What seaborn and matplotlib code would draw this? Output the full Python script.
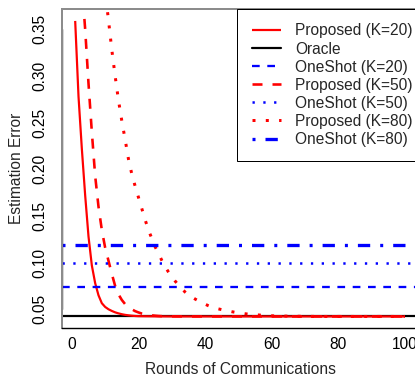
import matplotlib
matplotlib.use("Agg")
import matplotlib.pyplot as plt
import seaborn as sns
from matplotlib.lines import Line2D

sns.set_style("white")
plt.rcParams["font.family"] = ["Liberation Sans", "DejaVu Sans"]
plt.rcParams["lines.scale_dashes"] = False

# ---------------- data ----------------
rounds_k20 = [1, 2, 3, 4, 5, 6, 7, 8, 9, 10, 11, 12, 13, 14, 15, 16, 17, 18, 19, 20,
              22, 25, 30, 40, 50, 60, 70, 80, 90, 100]
proposed_k20 = [0.359, 0.278, 0.222, 0.172, 0.128, 0.097, 0.078, 0.065, 0.0565, 0.0525,
                0.0500, 0.0482, 0.0467, 0.0456, 0.0447, 0.0440, 0.0435, 0.0431, 0.0428, 0.0426,
                0.0425, 0.0424, 0.0423, 0.0423, 0.0423, 0.0423, 0.0423, 0.0423, 0.0423, 0.0423]

rounds_k50 = [1, 2, 3, 4, 5, 6, 7, 8, 9, 10, 11, 12, 13, 14, 15, 16, 17, 18, 19, 20,
              21, 22, 23, 24, 25, 26, 27, 28, 30, 35, 40, 50, 60, 70, 80, 90, 100]
proposed_k50 = [0.520, 0.455, 0.398, 0.350, 0.292, 0.240, 0.193, 0.160, 0.135, 0.116,
                0.102, 0.088, 0.075, 0.066, 0.060, 0.0555, 0.0525, 0.0500, 0.0480, 0.0466,
                0.0454, 0.0446, 0.0440, 0.0435, 0.0431, 0.0428, 0.0426, 0.0425, 0.0424, 0.0423,
                0.0423, 0.0423, 0.0423, 0.0423, 0.0423, 0.0423, 0.0423]

rounds_k80 = [1, 2, 3, 4, 5, 6, 7, 8, 9, 10, 11, 12, 13, 14, 15, 16, 17, 18, 19, 20,
              21, 22, 23, 24, 25, 26, 27, 28, 29, 30, 31, 32, 33, 34, 35, 36, 37, 38, 39, 40,
              41, 42, 43, 44, 45, 46, 47, 48, 49, 50, 51, 52, 53, 54, 55, 56, 57, 58, 59, 60,
              65, 70, 75, 80, 85, 90, 95, 100]
proposed_k80 = [0.660, 0.630, 0.600, 0.570, 0.540, 0.510, 0.480, 0.450, 0.420, 0.390,
                0.360, 0.328, 0.300, 0.274, 0.252, 0.232, 0.211, 0.195, 0.182, 0.170,
                0.158, 0.146, 0.135, 0.126, 0.117, 0.110, 0.1025, 0.0958, 0.0900, 0.0850,
                0.0803, 0.0760, 0.0720, 0.0685, 0.0655, 0.0632, 0.0610, 0.0590, 0.0571, 0.0555,
                0.0538, 0.0523, 0.0513, 0.0504, 0.0496, 0.0488, 0.0481, 0.0474, 0.0468, 0.0462,
                0.0457, 0.0452, 0.0448, 0.0445, 0.0442, 0.0439, 0.0436, 0.0434, 0.0432, 0.0430,
                0.0426, 0.0424, 0.0423, 0.0423, 0.0423, 0.0423, 0.0423, 0.0423]

oracle = 0.0423
oneshot_k20 = 0.0742
oneshot_k50 = 0.0993
oneshot_k80 = 0.1189

x_ticks = [0, 20, 40, 60, 80, 100]
y_ticks = [0.05, 0.10, 0.15, 0.20, 0.25, 0.30, 0.35]
y_ticklabels = ["0.05", "0.10", "0.15", "0.20", "0.25", "0.30", "0.35"]

legend_labels = ["Proposed (K=20)", "Oracle", "OneShot (K=20)", "Proposed (K=50)",
                 "OneShot (K=50)", "Proposed (K=80)", "OneShot (K=80)"]

RED = "#FF0000"
BLUE = "#0000FF"
FS = 15.5

# ---------------- figure ----------------
W, H = 415, 384
fig = plt.figure(figsize=(W / 72, H / 72), dpi=72)
ax_l, ax_t, ax_b, ax_r = 62, 9, 328.3, 418
ax = fig.add_axes([ax_l / W, (H - ax_b) / H, (ax_r - ax_l) / W, (ax_b - ax_t) / H])


def curve(x, y, color, lw, dashes=None):
    sns.lineplot(x=x, y=y, ax=ax, color=color, linewidth=lw, estimator=None,
                 sort=False, legend=False)
    ln = ax.lines[-1]
    if dashes is not None:
        ln.set_dashes(dashes)
    ln.set_dash_capstyle("butt")
    ln.set_solid_capstyle("butt")
    return ln


def hline(y, color, lw, dashes=None):
    ln = ax.axhline(y, color=color, linewidth=lw)
    if dashes is not None:
        ln.set_dashes(dashes)
    ln.set_dash_capstyle("butt")
    return ln


h_or = hline(oracle, "black", 2.2)
h_p20 = curve(rounds_k20, proposed_k20, RED, 2.2)
h_p50 = curve(rounds_k50, proposed_k50, RED, 2.6, (10, 10))
h_p80 = curve(rounds_k80, proposed_k80, RED, 3.0, (3, 10.3))
h_o20 = hline(oneshot_k20, BLUE, 2.3, (7.7, 7.6))
h_o50 = hline(oneshot_k50, BLUE, 2.5, (2.3, 8.5))
h_o80 = hline(oneshot_k80, BLUE, 3.3, (3, 10, 12.3, 10))

ax.set_xlim(-2.96, 103.96)
ax.set_ylim(0.0296, 0.3718)
ax.set_xticks(x_ticks)
ax.set_xticklabels([str(t) for t in x_ticks], fontsize=FS)
ax.set_yticks(y_ticks)
ax.set_yticklabels(y_ticklabels, fontsize=FS, rotation=90, va="center")
ax.tick_params(axis="both", direction="out", length=6, width=1.2, color="black",
               labelcolor="black")
ax.tick_params(axis="x", pad=3)
ax.tick_params(axis="y", pad=9)

ax.set_xlabel("Rounds of Communications", fontsize=FS)
ax.set_ylabel("Estimation Error", fontsize=FS)
ax.xaxis.label.set_va("center")
ax.yaxis.label.set_va("center")
ax.xaxis.set_label_coords((240.5 - ax_l) / (ax_r - ax_l), -(370 - ax_b) / (ax_b - ax_t))
ax.yaxis.set_label_coords(-(ax_l - 16.7) / (ax_r - ax_l), 0.5)

# box (gray) + axis lines (black)
for side in ["top", "left", "right"]:
    ax.spines[side].set_color("#8c8c8c")
    ax.spines[side].set_linewidth(2)
ax.spines["bottom"].set_color("black")
ax.spines["bottom"].set_linewidth(1.4)
ax.add_line(Line2D([0, 0], [0.05, 0.35], transform=ax.get_yaxis_transform(),
                   color="#333333", linewidth=1.4, clip_on=False))

handles = [h_p20, h_or, h_o20, h_p50, h_o50, h_p80, h_o80]
leg = ax.legend(handles, legend_labels, loc="upper right",
                bbox_to_anchor=((427.4 - ax_l) / (ax_r - ax_l), 1.0),
                borderaxespad=0, frameon=True, fancybox=False, framealpha=1,
                edgecolor="black", fontsize=FS, handlelength=1.9,
                handletextpad=0.92, labelspacing=0.2, borderpad=0.93)
leg.get_frame().set_linewidth(1.0)

fig.savefig("out.png", dpi=72)
